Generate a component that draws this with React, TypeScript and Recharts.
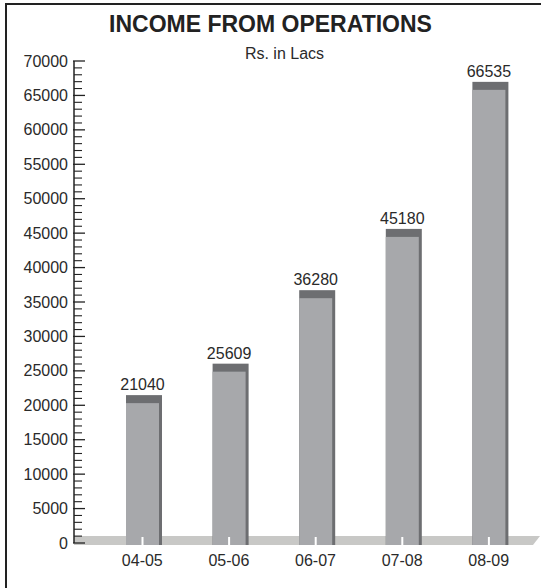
import React from 'react';
import { BarChart, Bar, XAxis, YAxis, LabelList } from 'recharts';

const years = ['04-05', '05-06', '06-07', '07-08', '08-09'];
const income = [21040, 25609, 36280, 45180, 66535];
const majorTicks = [0, 5000, 10000, 15000, 20000, 25000, 30000, 35000, 40000, 45000, 50000, 55000, 60000, 65000, 70000];
const minorSteps = [1000, 2000, 3000, 4000];

const allTicks = majorTicks.concat(
  majorTicks.slice(0, -1).flatMap((t) => minorSteps.map((s) => t + s))
).sort((a, b) => a - b);

const data = years.map((year, i) => ({ year, value: income[i] }));

const W = 541;
const H = 588;
const AXIS_X = 74;
const FONT = '"Liberation Sans", Arial, Helvetica, sans-serif';

const LIGHT = '#a7a8ab';
const DARK = '#6d6e71';
const FLOOR = '#c8c8c6';
const TEXT = '#2a2a2a';

const BarShape = (props: any) => {
  const { x, y, width, height, index } = props;
  const bottom = y + height;
  const cx = x + width / 2;
  return (
    <g>
      {index === 0 && (
        <polygon
          points={`${AXIS_X},${bottom - 7} ${W - 1},${bottom - 7} ${W - 8},${bottom + 2} ${AXIS_X},${bottom + 2}`}
          fill={FLOOR}
        />
      )}
      <rect x={x} y={y - 3} width={width + 3} height={height + 5} fill={DARK} />
      <rect x={x} y={y + 5} width={width} height={height - 3} fill={LIGHT} />
      <rect x={cx - 1} y={bottom - 6} width={2} height={8} fill="#fff" />
    </g>
  );
};

const YTick = (props: any) => {
  const { x, y, payload } = props;
  const major = payload.value % 5000 === 0;
  return (
    <g>
      {major ? (
        <>
          <line x1={x - 1} x2={x + 11} y1={y} y2={y} stroke="#222" strokeWidth={1.3} />
          <text x={x - 6} y={y} textAnchor="end" dominantBaseline="central" fontSize={16} fill={TEXT} fontFamily={FONT}>
            {payload.value}
          </text>
        </>
      ) : (
        <line x1={x} x2={x + 8} y1={y} y2={y} stroke="#222" strokeWidth={1.1} />
      )}
    </g>
  );
};

export default function App() {
  return (
    <div style={{ position: 'relative', width: W, height: H, background: '#fff', fontFamily: FONT }}>
      <style>{`body{margin:0}`}</style>
      <div
        style={{
          position: 'absolute',
          left: 5,
          top: 3,
          width: W - 5,
          height: H - 3,
          borderTop: '2px solid #222',
          borderLeft: '2px solid #222',
          boxSizing: 'border-box',
        }}
      />
      <div
        style={{
          position: 'absolute',
          left: 0,
          top: 11,
          width: W,
          textAlign: 'center',
          fontSize: 23,
          fontWeight: 'bold',
          color: '#222',
        }}
      >
        INCOME FROM OPERATIONS
      </div>
      <div
        style={{
          position: 'absolute',
          left: 14,
          top: 45,
          width: W,
          textAlign: 'center',
          fontSize: 16,
          color: TEXT,
        }}
      >
        Rs. in Lacs
      </div>
      <div style={{ position: 'absolute', left: 0, top: 0 }}>
        <BarChart width={W} height={H} data={data} margin={{ top: 61, right: 9, left: 0, bottom: 15 }}>
          <XAxis
            dataKey="year"
            height={30}
            axisLine={false}
            tickLine={false}
            tickMargin={6}
            padding={{ left: 25, right: 0 }}
            tick={{ fontSize: 16, fill: TEXT, fontFamily: FONT }}
          />
          <YAxis
            type="number"
            domain={[0, 70000]}
            ticks={allTicks}
            interval={0}
            width={AXIS_X}
            tickSize={0}
            tickMargin={0}
            tickLine={false}
            axisLine={{ stroke: '#222', strokeWidth: 1.5 }}
            tick={<YTick />}
          />
          <Bar dataKey="value" barSize={33} shape={<BarShape />} isAnimationActive={false}>
            <LabelList dataKey="value" position="top" offset={8} fontSize={16} fill={TEXT} fontFamily={FONT} />
          </Bar>
        </BarChart>
      </div>
    </div>
  );
}
